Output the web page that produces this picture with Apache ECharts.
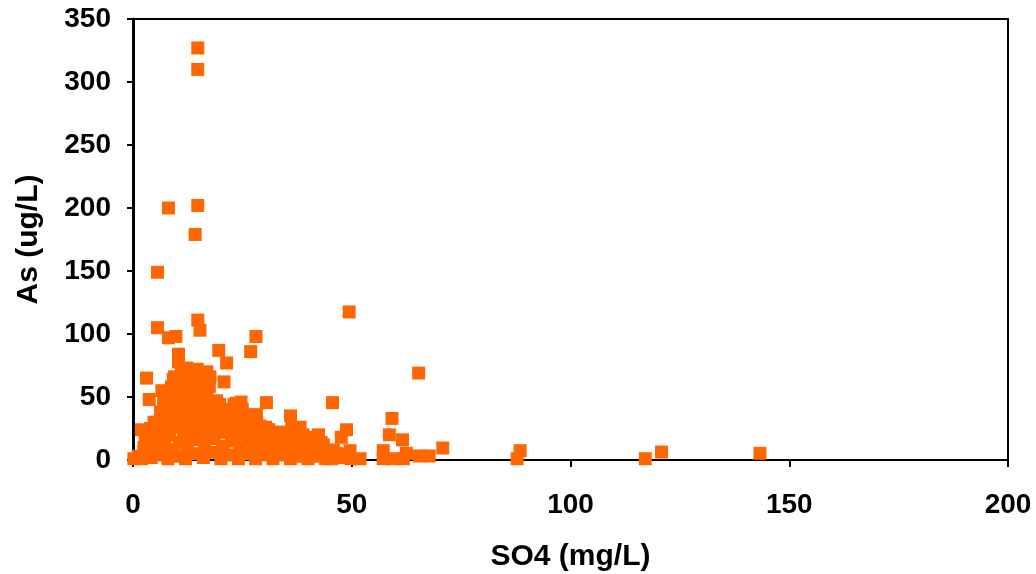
<!DOCTYPE html>
<html>
<head>
<meta charset="utf-8">
<script src="https://cdn.jsdelivr.net/npm/echarts@6/dist/echarts.min.js"></script>
<style>html,body{margin:0;padding:0;background:#fff}#c{width:1036px;height:574px}</style>
</head>
<body>
<div id="c"></div>
<script>
// SO4 (mg/L) values
var so4 = [
  14.8,14.8,8.1,14.8,14.2,5.6,5.6,8.1,9.8,14.8,15.3,10.4,10.4,19.6,26.9,28.1,21.4,49.4,65.3,3.1,
  20.8,3.7,30.5,45.6,36.0,1.9,48.8,42.4,38.2,47.6,51.9,0.2,59.2,58.6,61.6,70.8,88.5,87.8,117.1,120.8,
  143.3,49.6,57.2,57.2,59.5,61.8,62.5,65.4,67.7,46.5,45.5,28.2,
  1.2,2.5,2.0,3.5,3.0,4.2,4.6,5.0,4.8,5.3,
  6.2,6.5,6.8,6.3,7.0,6.6,7.3,
  8.0,8.4,8.7,8.2,9.0,8.8,9.3,9.2,
  10.1,10.5,10.8,10.3,11.0,10.6,11.2,11.0,
  12.0,12.4,12.8,12.2,13.0,12.5,13.2,12.8,12.3,
  14.0,14.5,14.8,14.2,15.0,14.6,15.3,14.7,
  16.1,16.4,16.8,16.2,17.0,16.6,17.2,16.9,
  18.0,18.5,18.8,18.2,19.1,17.4,18.4,
  20.1,20.5,20.8,20.3,21.0,19.8,21.6,
  22.0,22.5,22.8,22.3,23.1,23.6,
  24.1,24.4,24.8,24.3,25.0,24.7,
  26.0,26.5,26.8,26.3,27.1,
  28.0,28.5,28.8,28.3,29.0,
  30.1,30.5,30.8,30.3,31.0,
  32.0,32.5,32.8,32.3,33.1,
  34.1,34.5,34.8,34.3,
  36.0,36.5,36.8,36.3,
  38.1,38.5,38.8,
  40.0,40.5,40.8,41.2,
  42.1,42.6,43.0,
  44.0,44.4,
  47.2,48.5,49.8,
  2.8,4.0,5.8,7.6,7.8,9.6,9.9,11.6,11.8,13.5,13.7,15.6,15.8,17.5,16.8,19.6,19.8,21.6,21.8,23.5,
  23.8,25.6,25.8,27.6,27.8,29.6,29.8,31.6,33.5,35.5,35.8,37.5,39.5,41.5,43.5,45.8,46.5,7.7,16.4,17.6,
  9.5,11.5,13.4,15.5,17.4
];
// As (ug/L) values
var arsenic = [
  327,310,200,202,179,149,105,97,98,111,103,84,78,87,86,98,77,117.5,69,65,
  62,48,45.5,45.5,35,24,24,20,26,18,1,1,33,20,16,9.5,7.4,1,1,6.3,
  5.3,7.4,7.4,1,1,1,5.3,3.2,3.2,5.3,1,36,
  3,10,1,17,5,2,12,22,30,8,
  4,16,27,38,47,55,10,
  1,20,33,42,50,58,8,64,
  3,14,26,37,46,55,62,70,
  1,10,21,31,42,51,60,68,73,
  5,16,27,38,48,57,66,72,
  2,12,24,35,44,53,62,70,
  6,17,29,40,47,58,36,
  1,11,23,33,40,44,30,
  4,15,27,36,44,45,
  1,10,21,31,40,46,
  5,15,26,35,34,
  1,11,21,30,27,
  4,14,24,26,24,
  1,9,18,22,22,
  4,13,22,20,
  1,8,17,25,
  3,12,20,
  1,7,14,18,
  3,10,14,
  1,6,
  2,4,1,
  14,25,20,30,40,28,40,20,33,28,50,20,40,30,52,22,38,28,40,20,
  32,26,36,18,30,22,25,18,18,18,20,18,10,8,12,8,2,52,64,66,
  66,68,66,64,60
];
var xTicks = [0, 50, 100, 150, 200];
var yTicks = [0, 50, 100, 150, 200, 250, 300, 350];

var points = so4.map(function (x, i) { return [x, arsenic[i]]; });

var chart = echarts.init(document.getElementById('c'), null, {renderer: 'canvas'});
var font = '"Liberation Sans", Arial, sans-serif';
chart.setOption({
  animation: false,
  backgroundColor: '#ffffff',
  grid: {
    left: 133, right: 28, top: 19, bottom: 114,
    containLabel: false, outerBoundsMode: 'none',
    show: true, borderColor: '#000', borderWidth: 2, backgroundColor: 'transparent'
  },
  xAxis: {
    type: 'value', min: xTicks[0], max: xTicks[xTicks.length - 1], interval: 50,
    name: 'SO4 (mg/L)', nameLocation: 'middle', nameGap: 82,
    nameTextStyle: {fontFamily: font, fontWeight: 'bold', fontSize: 30, color: '#000'},
    axisLine: {show: true, lineStyle: {color: '#000', width: 2}},
    axisTick: {show: true, inside: false, length: 7, lineStyle: {color: '#000', width: 2}},
    axisLabel: {fontFamily: font, fontWeight: 'bold', fontSize: 28, color: '#000', margin: 31},
    splitLine: {show: false}
  },
  yAxis: {
    type: 'value', min: yTicks[0], max: yTicks[yTicks.length - 1], interval: 50,
    name: 'As (ug/L)', nameLocation: 'middle', nameGap: 89,
    nameTextStyle: {fontFamily: font, fontWeight: 'bold', fontSize: 30, color: '#000'},
    axisLine: {show: true, lineStyle: {color: '#000', width: 3}},
    axisTick: {show: true, inside: false, length: 6, lineStyle: {color: '#000', width: 2}},
    axisLabel: {fontFamily: font, fontWeight: 'bold', fontSize: 28, color: '#000', margin: 22},
    splitLine: {show: false}
  },
  series: [{
    type: 'scatter',
    symbol: 'rect',
    symbolSize: 13,
    itemStyle: {color: '#FF6600', opacity: 1},
    data: points
  }]
});
</script>
</body>
</html>
